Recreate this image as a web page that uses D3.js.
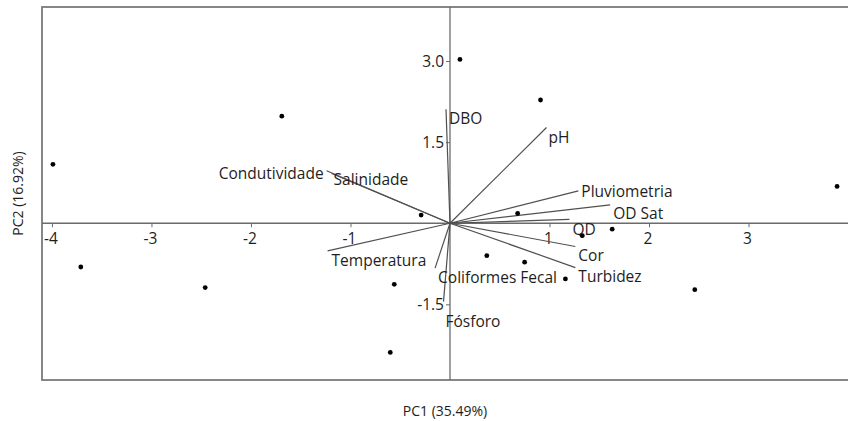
<!DOCTYPE html>
<html>
<head>
<meta charset="utf-8">
<script src="https://cdn.jsdelivr.net/npm/d3@7"></script>
<style>
  body { margin: 0; background: #fff; }
  svg { display: block; font-family: "Open Sans", "Noto Sans", sans-serif; }
</style>
</head>
<body>
<svg id="grafico"></svg>
<script>
// scores das amostras (PC1, PC2)
const scoresPC1 = [0.10, 0.91, -1.69, -3.99, 3.89, -0.29, 0.68, 1.63, 1.33, 0.37, 0.75, 1.16, -3.71, -2.46, -0.56, 2.46, -0.60];
const scoresPC2 = [3.03, 2.28, 1.98, 1.09, 0.68, 0.15, 0.18, -0.11, -0.23, -0.60, -0.72, -1.03, -0.81, -1.19, -1.13, -1.23, -2.39];

// vetores das variaveis
const variaveis = ['DBO', 'pH', 'Pluviometria', 'OD Sat', 'QD', 'Cor', 'Turbidez', 'Coliformes Fecal', 'Fósforo', 'Temperatura', 'Condutividade', 'Salinidade'];
const cargasPC1 = [-0.04, 0.97, 1.29, 1.61, 1.20, 1.26, 1.26, -0.15, -0.065, -1.23, -1.24, -1.19];
const cargasPC2 = [2.11, 1.77, 0.60, 0.34, 0.07, -0.43, -0.82, -0.83, -1.45, -0.51, 0.97, 0.92];

const ticksX = [-4, -3, -2, -1, 1, 2, 3];
const ticksY = [3.0, 1.5, -1.5];

// deslocamento dos rotulos em relacao a ponta do vetor
const posRotulo = {
  'DBO': [3, 9, 'start'],
  'pH': [2, 10, 'start'],
  'Pluviometria': [3, 1, 'start'],
  'OD Sat': [3, 9, 'start'],
  'QD': [3, 10, 'start'],
  'Cor': [3, 9, 'start'],
  'Turbidez': [3, 9, 'start'],
  'Coliformes Fecal': [3, 9, 'start'],
  'Fósforo': [2, 20, 'start'],
  'Temperatura': [4, 10, 'start'],
  'Condutividade': [-3, 3, 'end'],
  'Salinidade': [2, 6, 'start']
};

const largura = 848, altura = 421;
const svg = d3.select('#grafico').attr('width', largura).attr('height', altura);

const area = { esquerda: 42, superior: 7, inferior: 380, direita: 853 };

const x = d3.scaleLinear().domain([-4.1, 4.05]).range([area.esquerda, area.direita]);
const y = d3.scaleLinear().domain([-2.9, 4.0]).range([area.inferior, area.superior]);

const corEixo = '#6b6b6b';
const corTexto = '#1e1e1e';

// moldura
svg.append('rect')
  .attr('x', area.esquerda).attr('y', area.superior)
  .attr('width', area.direita - area.esquerda).attr('height', area.inferior - area.superior)
  .attr('fill', 'none').attr('stroke', '#7a7a7a').attr('stroke-width', 1.8);

// eixo x (em y = 0)
const eixoX = svg.append('g').attr('transform', `translate(0, ${y(0)})`)
  .call(d3.axisBottom(x).tickValues(ticksX).tickSize(4).tickPadding(6).tickFormat(d3.format('d')));
eixoX.select('.domain').remove();
eixoX.append('line').attr('x1', area.esquerda).attr('x2', largura).attr('stroke', corEixo).attr('stroke-width', 1.3);
eixoX.selectAll('.tick line').attr('stroke', corEixo);
eixoX.selectAll('.tick text').attr('fill', corTexto).style('font-size', '15.5px').style('font-family', 'Open Sans').attr('dx', '-0.1em');
eixoX.selectAll('.tick text').text(d => d < 0 ? '-' + Math.abs(d) : d);

// eixo y (em x = 0)
const eixoY = svg.append('g').attr('transform', `translate(${x(0)}, 0)`)
  .call(d3.axisLeft(y).tickValues(ticksY).tickSize(4).tickPadding(2).tickFormat(d3.format('.1f')));
eixoY.select('.domain').remove();
eixoY.append('line').attr('y1', area.superior).attr('y2', area.inferior).attr('stroke', corEixo).attr('stroke-width', 1.3);
eixoY.selectAll('.tick line').attr('stroke', corEixo);
eixoY.selectAll('.tick text').attr('fill', corTexto).style('font-size', '15.5px').style('font-family', 'Open Sans');
eixoY.selectAll('.tick text').text(d => d < 0 ? '-' + d3.format('.1f')(Math.abs(d)) : d3.format('.1f')(d));

// vetores
const dadosVar = variaveis.map((nome, i) => ({ nome, px: cargasPC1[i], py: cargasPC2[i] }));

svg.selectAll('.vetor')
  .data(dadosVar)
  .enter()
  .append('line')
  .classed('vetor', true)
  .attr('x1', x(0)).attr('y1', y(0))
  .attr('x2', d => x(d.px)).attr('y2', d => y(d.py))
  .attr('stroke', '#505050').attr('stroke-width', 1.2);

svg.selectAll('.rotulo')
  .data(dadosVar)
  .enter()
  .append('text')
  .classed('rotulo', true)
  .attr('x', d => x(d.px) + posRotulo[d.nome][0])
  .attr('y', d => y(d.py) + posRotulo[d.nome][1])
  .attr('text-anchor', d => posRotulo[d.nome][2])
  .attr('dy', '0.35em')
  .attr('fill', corTexto)
  .style('font-size', '15.5px')
  .text(d => d.nome);

// pontos
const dadosPts = scoresPC1.map((v, i) => ({ pc1: v, pc2: scoresPC2[i] }));
svg.selectAll('.ponto')
  .data(dadosPts)
  .enter()
  .append('circle')
  .classed('ponto', true)
  .attr('cx', d => x(d.pc1))
  .attr('cy', d => y(d.pc2))
  .attr('r', 2.4)
  .attr('fill', '#000');

// titulos
svg.append('text')
  .attr('text-anchor', 'middle')
  .attr('transform', `translate(18, ${(area.superior + area.inferior) / 2}) rotate(-90)`)
  .attr('dy', '0.35em')
  .attr('fill', corTexto)
  .style('font-size', '14px')
  .text('PC2 (16.92%)');

svg.append('text')
  .attr('text-anchor', 'middle')
  .attr('x', 445).attr('y', 411)
  .attr('dy', '0.35em')
  .attr('fill', corTexto)
  .style('font-size', '14px')
  .text('PC1 (35.49%)');
</script>
</body>
</html>
